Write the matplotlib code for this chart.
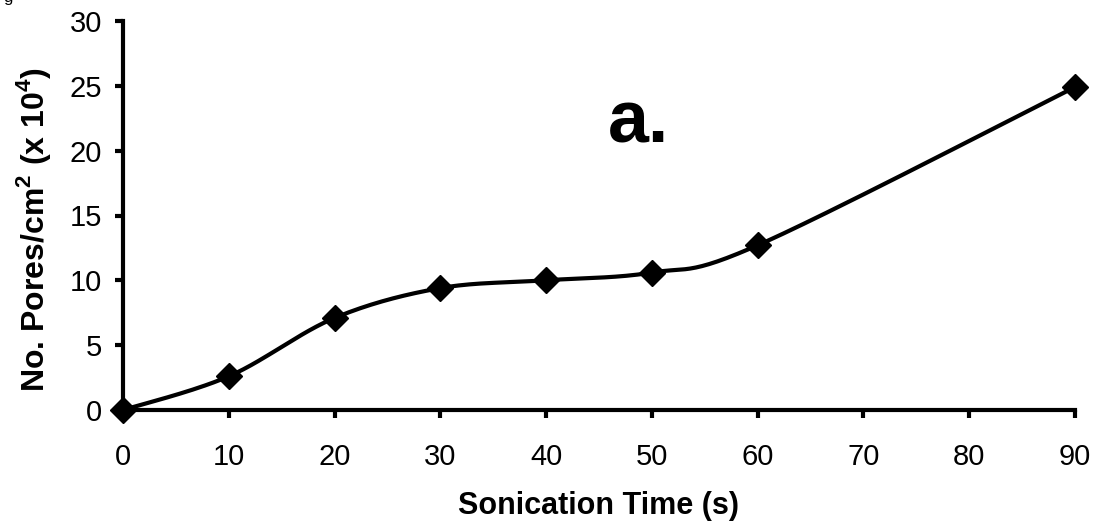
import numpy as np
import matplotlib.pyplot as plt

# Sonication time (s) vs number of pores (x 10^4 per cm^2)
time_s = [0, 10, 20, 30, 40, 50, 60, 90]
pores = [0, 2.6, 7.1, 9.4, 10.0, 10.6, 12.7, 24.9]

plt.rcParams['font.family'] = ['Liberation Sans', 'DejaVu Sans']
plt.rcParams['mathtext.fontset'] = 'custom'
plt.rcParams['mathtext.rm'] = 'Liberation Sans:bold'
plt.rcParams['mathtext.bf'] = 'Liberation Sans:bold'


# smooth line through the points, like a spreadsheet "smoothed line"
def catmull_rom(xs, ys, n=30):
    xs = np.asarray(xs, float)
    ys = np.asarray(ys, float)
    px = np.concatenate([[xs[0]], xs, [xs[-1]]])
    py = np.concatenate([[ys[0]], ys, [ys[-1]]])
    out_x, out_y = [], []
    t = np.linspace(0, 1, n)
    for i in range(1, len(px) - 2):
        for arr, out in ((px, out_x), (py, out_y)):
            p0, p1, p2, p3 = arr[i - 1], arr[i], arr[i + 1], arr[i + 2]
            seg = 0.5 * ((2 * p1) + (-p0 + p2) * t
                         + (2 * p0 - 5 * p1 + 4 * p2 - p3) * t ** 2
                         + (-p0 + 3 * p1 - 3 * p2 + p3) * t ** 3)
            out.extend(seg)
    return np.array(out_x), np.array(out_y)


fig = plt.figure(figsize=(10.99, 5.27), dpi=100)
ax = fig.add_axes([0.112, 1 - 410 / 527, 0.866, 389 / 527])

sx, sy = catmull_rom(time_s, pores)
ax.plot(sx, sy, color='black', lw=3, clip_on=False, solid_capstyle='round')
ax.plot(time_s, pores, 'D', color='black', ms=13, clip_on=False)

ax.set_xlim(0, 90)
ax.set_ylim(0, 30)
ax.set_xticks(range(0, 91, 10))
ax.set_yticks(range(0, 31, 5))

for s in ['top', 'right']:
    ax.spines[s].set_visible(False)
for s in ['left', 'bottom']:
    ax.spines[s].set_linewidth(3)
ax.tick_params(direction='out', length=6, width=3, labelsize=21)
ax.tick_params(axis='x', pad=18)
ax.tick_params(axis='y', pad=9)

ax.set_xlabel('Sonication Time (s)', fontsize=22, fontweight='bold', va='center')
ax.xaxis.set_label_coords(0.5, -0.247)
ax.set_ylabel(r'No. Pores/cm$^2$ (x 10$^4$)', fontsize=23, fontweight='bold', va='center')
ax.yaxis.set_label_coords(-0.094, 0.463)

ax.text(48.7, 20.6, 'a.', fontsize=53, fontweight='bold', ha='center', va='baseline')
fig.text(0.003, 1.005, 'g', fontsize=12, va='center')

fig.savefig('out.png', dpi=100)
